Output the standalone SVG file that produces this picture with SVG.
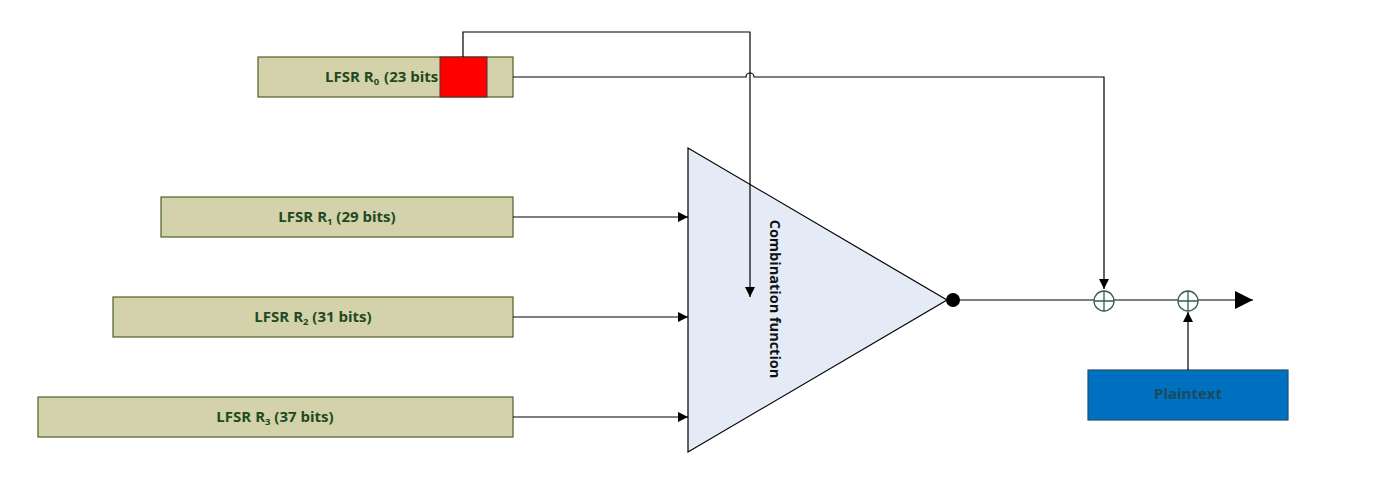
<svg xmlns="http://www.w3.org/2000/svg" width="1373" height="501" viewBox="0 0 1373 501">
<style>
.lfsr{fill:#D3D2AA;stroke:#4F6228;stroke-width:1.2}
.lt{font-family:"Open Sans","Liberation Sans",sans-serif;font-weight:bold;font-size:15px;fill:#1F4A1F}
.sub{font-size:9.5px}
.wire{fill:none;stroke:#000;stroke-width:1.2}
.xor{fill:#fff;stroke:#2F5F4F;stroke-width:1.3}
</style>
<defs>
<marker id="ah" viewBox="0 0 10 10" refX="10" refY="5" markerWidth="10" markerHeight="10" markerUnits="userSpaceOnUse" orient="auto">
<path d="M0,0 L10,5 L0,10 z" fill="#000"/>
</marker>
<marker id="ahBig" viewBox="0 0 10 10" refX="10" refY="5" markerWidth="18" markerHeight="20" markerUnits="userSpaceOnUse" orient="auto">
<path d="M0,0 L10,5 L0,10 z" fill="#000"/>
</marker>
</defs>
<rect width="1373" height="501" fill="#fff"/>

<g id="combiner">
<polygon points="688,148 688,452 947,300" fill="#E5EBF6" stroke="#000" stroke-width="1.2"/>
<text class="lt" style="fill:#111;font-size:14.5px" transform="translate(770,299) rotate(90)" text-anchor="middle">Combination function</text>
</g>

<g id="r0">
<rect class="lfsr" x="258" y="57" width="255" height="40"/>
<text class="lt" x="325" y="82">LFSR R<tspan class="sub" dy="3">0</tspan><tspan dy="-3" dx="5">(23 bits</tspan></text>
<rect x="440" y="57" width="47" height="40" fill="#FF0000" stroke="#4F3228" stroke-width="1"/>
</g>
<g id="r1">
<rect class="lfsr" x="161" y="197" width="352" height="40"/>
<text class="lt" x="337" y="222" text-anchor="middle">LFSR R<tspan class="sub" dy="3">1</tspan><tspan dy="-3"> (29 bits)</tspan></text>
</g>
<g id="r2">
<rect class="lfsr" x="113" y="297" width="400" height="40"/>
<text class="lt" x="313" y="322" text-anchor="middle">LFSR R<tspan class="sub" dy="3">2</tspan><tspan dy="-3"> (31 bits)</tspan></text>
</g>
<g id="r3">
<rect class="lfsr" x="38" y="397" width="475" height="40"/>
<text class="lt" x="275" y="422" text-anchor="middle">LFSR R<tspan class="sub" dy="3">3</tspan><tspan dy="-3"> (37 bits)</tspan></text>
</g>

<g id="plaintext">
<rect x="1088" y="370" width="200" height="50" fill="#0070C0" stroke="#1F4E6F" stroke-width="1.2"/>
<text class="lt" x="1188" y="399" text-anchor="middle" style="fill:#1C4A5C">Plaintext</text>
</g>

<g id="connectors">
<path class="wire" d="M463,57 V32 H750 V297" marker-end="url(#ah)"/>
<path class="wire" d="M513,77 H746 A4,4 0 0 1 754,77 H1104 V289" marker-end="url(#ah)"/>
<path class="wire" d="M513,217 H688" marker-end="url(#ah)"/>
<path class="wire" d="M513,317 H688" marker-end="url(#ah)"/>
<path class="wire" d="M513,417 H688" marker-end="url(#ah)"/>
<path class="wire" d="M953,300 H1253" marker-end="url(#ahBig)"/>
<path class="wire" d="M1188,370 V312" marker-end="url(#ah)"/>
</g>

<g id="dot"><circle cx="953" cy="300" r="7" fill="#000"/></g>
<g id="xor1">
<circle class="xor" cx="1104" cy="301" r="10"/>
<path d="M1094,301 H1114 M1104,291 V311" stroke="#2F5F4F" stroke-width="1.3"/>
</g>
<g id="xor2">
<circle class="xor" cx="1188" cy="301" r="10"/>
<path d="M1178,301 H1198 M1188,291 V311" stroke="#2F5F4F" stroke-width="1.3"/>
</g>
</svg>
